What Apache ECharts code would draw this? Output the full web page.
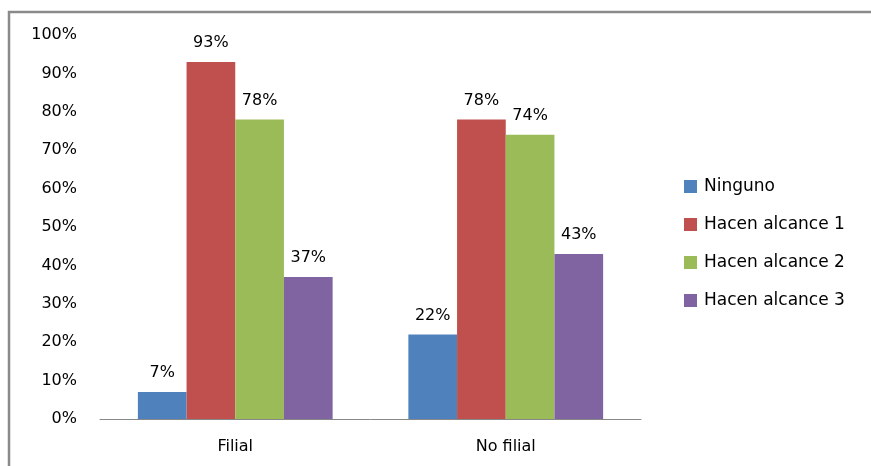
<!DOCTYPE html>
<html>
<head>
<meta charset="utf-8">
<script src="https://cdn.jsdelivr.net/npm/echarts@6/dist/echarts.min.js"></script>
<style>
  html, body { margin: 0; padding: 0; background: #fff; }
  #chart { width: 871px; height: 466px; }
</style>
</head>
<body>
<div id="chart"></div>
<script>
// Categories and series values (percent)
const categories = ['Filial', 'No filial'];
const seriesNames = ['Ninguno', 'Hacen alcance 1', 'Hacen alcance 2', 'Hacen alcance 3'];
const ninguno = [7, 22];
const alcance1 = [93, 78];
const alcance2 = [78, 74];
const alcance3 = [37, 43];
const colors = ['#4F81BD', '#C0504D', '#9BBB59', '#8064A2'];

const FONT = 'DejaVu Sans';
const values = [ninguno, alcance1, alcance2, alcance3];

const chart = echarts.init(document.getElementById('chart'));
chart.setOption({
  animation: false,
  color: colors,
  textStyle: { fontFamily: FONT },
  graphic: [{
    type: 'polyline',
    shape: { points: [[9, 466], [9, 12], [871, 12]] },
    style: { stroke: '#8a8a8a', lineWidth: 2.5, fill: null }
  }],
  grid: { left: 100, right: 230, top: 35, bottom: 47, containLabel: false },
  legend: {
    orient: 'vertical',
    left: 679,
    top: 173,
    itemWidth: 13,
    itemHeight: 13,
    itemGap: 21,
    icon: 'rect',
    textStyle: { fontFamily: FONT, fontSize: 17, color: '#000', padding: [0, 0, 0, 2] },
    data: seriesNames
  },
  xAxis: {
    type: 'category',
    data: categories,
    axisLine: { lineStyle: { color: '#888', width: 1 } },
    axisTick: { show: false },
    axisLabel: { fontFamily: FONT, fontSize: 16, color: '#000', margin: 20 }
  },
  yAxis: {
    type: 'value',
    min: 0,
    max: 100,
    interval: 10,
    splitLine: { show: false },
    axisLine: { show: false },
    axisTick: { show: false },
    axisLabel: { fontFamily: FONT, fontSize: 16, color: '#000', margin: 23, formatter: '{value}%' }
  },
  series: seriesNames.map((name, i) => ({
    name,
    type: 'bar',
    data: values[i],
    barGap: '0%',
    barCategoryGap: '28%',
    label: {
      show: true,
      position: 'top',
      distance: 11,
      fontFamily: FONT,
      fontSize: 16,
      color: '#000',
      formatter: '{c}%'
    }
  }))
});
</script>
</body>
</html>
